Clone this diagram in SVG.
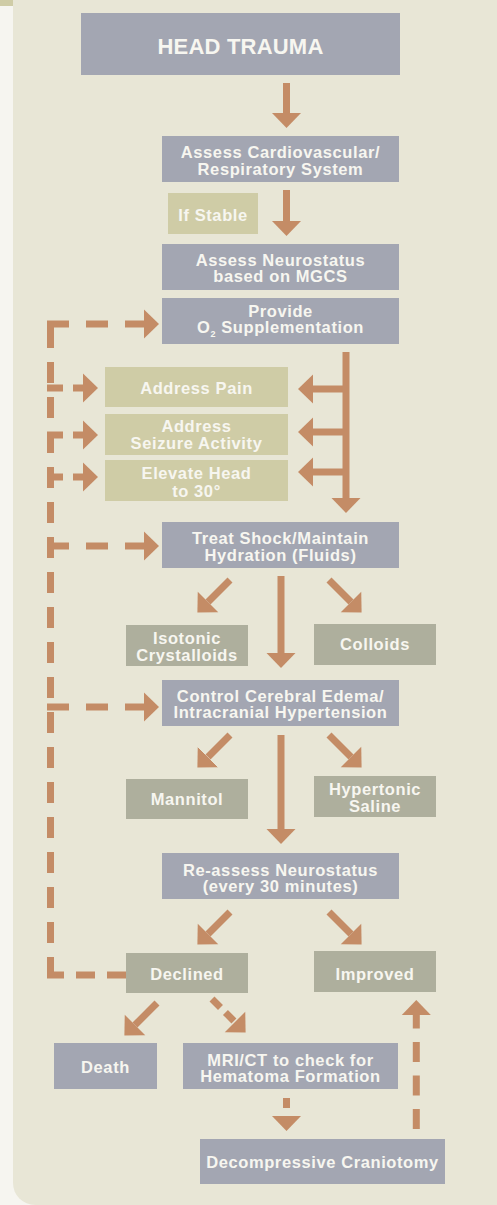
<svg xmlns="http://www.w3.org/2000/svg" width="497" height="1205" viewBox="0 0 497 1205">
<defs>
<marker id="ah" markerUnits="userSpaceOnUse" markerWidth="16" markerHeight="30" viewBox="0 -15 16 30" refX="0" refY="0" orient="auto"><path d="M0,-14.5 L15,0 L0,14.5 Z" fill="#c48c66"/></marker>
<style>
.bl{fill:#a3a6b2}
.ol{fill:#cfcca6}
.gr{fill:#aeaf9d}
.t{font-family:"Liberation Sans",Arial,sans-serif;font-weight:bold;font-size:16.5px;fill:#f7f6f0;text-anchor:middle;letter-spacing:0.6px}
.big{font-size:22px;letter-spacing:0.2px}
.c{fill:none;stroke:#c48c66;stroke-width:7;marker-end:url(#ah)}
.d{fill:none;stroke:#c48c66;stroke-width:7}
</style>
</defs>
<rect x="0" y="0" width="497" height="1205" fill="#f6f5f0"/>
<rect x="0" y="0" width="13" height="6" fill="#cfcca6"/>
<path d="M13,0 H497 V1205 H35 A22,22 0 0 1 13,1183 Z" fill="#e8e6d6"/>

<g id="connectors">
<path class="c" d="M286.5,83 V113"/>
<path class="c" d="M286.5,190 V221"/>
<path class="c" d="M346,352 V498"/>
<path class="c" d="M346,389 H313"/>
<path class="c" d="M346,432 H313"/>
<path class="c" d="M346,472 H313"/>
<path class="c" d="M230,580 L208,602"/>
<path class="c" d="M329,580 L351,602"/>
<path class="c" d="M281,576 V653"/>
<path class="c" d="M230,735 L208,757"/>
<path class="c" d="M329,735 L351,757"/>
<path class="c" d="M281,735 V829"/>
<path class="c" d="M230,912 L208,934"/>
<path class="c" d="M329,912 L351,934"/>
<path class="c" d="M157,1003 L135,1025"/>
<path class="c" d="M212,999 L235,1022" stroke-dasharray="12 7"/>
<path class="c" d="M286.5,1098 V1116" stroke-dasharray="10 8"/>
<path class="c" d="M416.3,1129 V1015" stroke-dasharray="20 13.5"/>
<path class="d" d="M126,975 H47" stroke-dasharray="19 12"/>
<path class="d" d="M50.5,978 V321" stroke-dasharray="21 14"/>
<path class="c" d="M47,324 H144" stroke-dasharray="22 17"/>
<path class="c" d="M47,388 H83" stroke-dasharray="16 10"/>
<path class="c" d="M47,435 H83" stroke-dasharray="16 10"/>
<path class="c" d="M47,477 H83" stroke-dasharray="16 10"/>
<path class="c" d="M47,546 H144" stroke-dasharray="22 17"/>
<path class="c" d="M47,707 H144" stroke-dasharray="22 17"/>
</g>

<g id="head-trauma"><rect class="bl" x="81" y="13" width="319" height="62"/><text class="t big" x="240.5" y="54">HEAD TRAUMA</text></g>
<g id="assess-cardio"><rect class="bl" x="162" y="136" width="237" height="46"/><text class="t" x="280.5" y="158">Assess Cardiovascular/</text><text class="t" x="280.5" y="175">Respiratory System</text></g>
<g id="if-stable"><rect class="ol" x="168" y="193" width="90" height="41"/><text class="t" x="213" y="221">If Stable</text></g>
<g id="assess-neuro"><rect class="bl" x="162" y="244" width="237" height="46"/><text class="t" x="280.5" y="266">Assess Neurostatus</text><text class="t" x="280.5" y="282">based on MGCS</text></g>
<g id="provide-o2"><rect class="bl" x="162" y="298" width="237" height="46"/><text class="t" x="280.5" y="317">Provide</text><text class="t" x="280.5" y="333">O<tspan font-size="9" dy="4">2</tspan><tspan dy="-4"> Supplementation</tspan></text></g>
<g id="address-pain"><rect class="ol" x="105" y="367" width="183" height="40"/><text class="t" x="196.5" y="394">Address Pain</text></g>
<g id="address-seizure"><rect class="ol" x="105" y="414" width="183" height="41"/><text class="t" x="196.5" y="432">Address</text><text class="t" x="196.5" y="449">Seizure Activity</text></g>
<g id="elevate-head"><rect class="ol" x="105" y="460" width="183" height="41"/><text class="t" x="196.5" y="479">Elevate Head</text><text class="t" x="196.5" y="497">to 30°</text></g>
<g id="treat-shock"><rect class="bl" x="162" y="522" width="237" height="46"/><text class="t" x="280.5" y="544">Treat Shock/Maintain</text><text class="t" x="280.5" y="561">Hydration (Fluids)</text></g>
<g id="isotonic"><rect class="gr" x="126" y="625" width="122" height="41"/><text class="t" x="187" y="644">Isotonic</text><text class="t" x="187" y="661">Crystalloids</text></g>
<g id="colloids"><rect class="gr" x="314" y="624" width="122" height="41"/><text class="t" x="375" y="650">Colloids</text></g>
<g id="control-edema"><rect class="bl" x="162" y="680" width="237" height="46"/><text class="t" x="280.5" y="702">Control Cerebral Edema/</text><text class="t" x="280.5" y="718">Intracranial Hypertension</text></g>
<g id="mannitol"><rect class="gr" x="126" y="779" width="122" height="40"/><text class="t" x="187" y="805">Mannitol</text></g>
<g id="hypertonic"><rect class="gr" x="314" y="776" width="122" height="41"/><text class="t" x="375" y="795">Hypertonic</text><text class="t" x="375" y="812">Saline</text></g>
<g id="reassess"><rect class="bl" x="162" y="853" width="237" height="46"/><text class="t" x="280.5" y="876">Re-assess Neurostatus</text><text class="t" x="280.5" y="892">(every 30 minutes)</text></g>
<g id="declined"><rect class="gr" x="126" y="953" width="122" height="40"/><text class="t" x="187" y="980">Declined</text></g>
<g id="improved"><rect class="gr" x="314" y="951" width="122" height="41"/><text class="t" x="375" y="980">Improved</text></g>
<g id="death"><rect class="bl" x="54" y="1043" width="103" height="46"/><text class="t" x="105.5" y="1073">Death</text></g>
<g id="mri-ct"><rect class="bl" x="183" y="1043" width="215" height="46"/><text class="t" x="290.5" y="1066">MRI/CT to check for</text><text class="t" x="290.5" y="1082">Hematoma Formation</text></g>
<g id="craniotomy"><rect class="bl" x="200" y="1139" width="245" height="45"/><text class="t" x="322.5" y="1168">Decompressive Craniotomy</text></g>
</svg>
